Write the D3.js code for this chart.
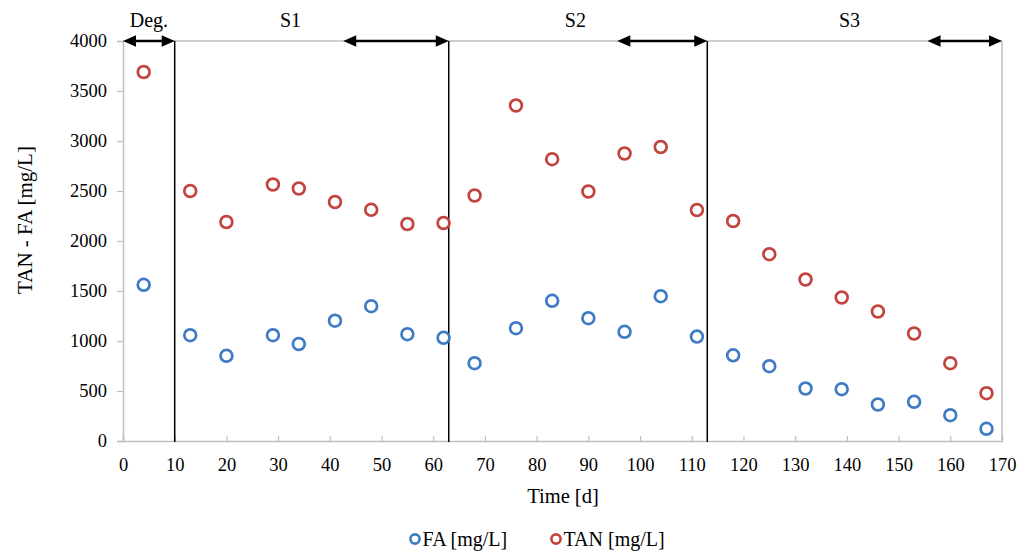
<!DOCTYPE html>
<html><head><meta charset="utf-8">
<script src="https://cdn.jsdelivr.net/npm/d3@7"></script>
<style>body{margin:0;background:#fff;} svg{display:block;}</style>
</head><body>
<svg id="chart" width="1031" height="552"></svg>
<script>
const days = [4,13,20,29,34,41,48,55,62,68,76,83,90,97,104,111,118,125,132,139,146,153,160,167];
const tanValues = [3690,2500,2190,2565,2525,2390,2312,2170,2180,2455,3355,2818,2495,2875,2940,2310,2200,1868,1615,1435,1295,1075,778,478];
const faValues = [1562,1058,852,1058,970,1203,1348,1068,1032,778,1128,1402,1228,1092,1448,1044,857,748,525,518,365,392,258,122];
const xTicks = [0,10,20,30,40,50,60,70,80,90,100,110,120,130,140,150,160,170];
const yTicks = [0,500,1000,1500,2000,2500,3000,3500,4000];
const phaseBounds = [10,63,113];
const phaseArrows = [[0,10],[42.6,63],[95.6,113],[155.6,170]];
const phaseLabels = ["Deg.","S1","S2","S3"];
const phaseLabelPos = [5.0,32.4,87.5,140.5];
const seriesNames = ["FA [mg/L]","TAN [mg/L]"];
const seriesColors = ["#3F7BC4","#C3433F"];

const svg = d3.select("#chart");
const m = {left:123, top:41, right:29, bottom:111};
const W = 1031 - m.left - m.right, H = 552 - m.top - m.bottom;
const g = svg.append("g").attr("transform",`translate(${m.left},${m.top})`);
const x = d3.scaleLinear().domain([0,170]).range([0,W]);
const y = d3.scaleLinear().domain([0,4000]).range([H,0]);
const font = "'Liberation Serif','Times New Roman',serif";
const grey = "#BFBFBF";

// plot area border (top, right)
g.append("line").attr("x1",0).attr("x2",W).attr("y1",0).attr("y2",0).attr("stroke",grey).attr("stroke-width",1.5);
g.append("line").attr("x1",W).attr("x2",W).attr("y1",0).attr("y2",H).attr("stroke",grey).attr("stroke-width",1.5);

// y axis
const ya = g.append("g").call(d3.axisLeft(y).tickValues(yTicks).tickSize(6).tickPadding(10).tickFormat(d3.format("d")));
ya.select(".domain").attr("stroke",grey).attr("stroke-width",1.5);
ya.selectAll(".tick line").attr("stroke",grey).attr("stroke-width",1.2);
ya.selectAll("text").attr("font-family",font).attr("font-size",18.5).attr("fill","#000");

// x axis
const xa = g.append("g").attr("transform",`translate(0,${H})`).call(d3.axisBottom(x).tickValues(xTicks).tickSize(-5).tickPadding(17).tickFormat(d3.format("d")));
xa.select(".domain").attr("stroke",grey).attr("stroke-width",1.5);
xa.selectAll(".tick line").attr("stroke",grey).attr("stroke-width",1.2);
xa.selectAll("text").attr("font-family",font).attr("font-size",18.5).attr("fill","#000");

// phase boundaries
g.selectAll(".bound").data(phaseBounds).enter().append("line")
  .attr("x1",d=>x(d)).attr("x2",d=>x(d)).attr("y1",0).attr("y2",H+1)
  .attr("stroke","#000").attr("stroke-width",1.5);

// double arrows
const ah = 13, aw = 5.8;
phaseArrows.forEach(([a,b])=>{
  const x1 = x(a), x2 = x(b);
  g.append("line").attr("x1",x1+ah-1).attr("x2",x2-ah+1).attr("y1",0).attr("y2",0).attr("stroke","#000").attr("stroke-width",2.5);
  g.append("path").attr("d",`M${x1},0L${x1+ah},${-aw}L${x1+ah},${aw}Z`).attr("fill","#000");
  g.append("path").attr("d",`M${x2},0L${x2-ah},${-aw}L${x2-ah},${aw}Z`).attr("fill","#000");
});

// phase labels
g.selectAll(".plabel").data(phaseLabels).enter().append("text")
  .attr("x",(d,i)=>x(phaseLabelPos[i])).attr("y",-14.5).attr("text-anchor","middle")
  .attr("font-family",font).attr("font-size",20).attr("fill","#000").text(d=>d);

// series
const series = [faValues, tanValues];
series.forEach((vals,si)=>{
  g.selectAll(".pt"+si).data(vals).enter().append("circle")
    .attr("cx",(d,i)=>x(days[i])).attr("cy",d=>y(d)).attr("r",5.9)
    .attr("fill","none").attr("stroke",seriesColors[si]).attr("stroke-width",2.7);
});

// axis titles
svg.append("text").attr("x",563).attr("y",503).attr("text-anchor","middle")
  .attr("font-family",font).attr("font-size",20.5).text("Time [d]");
svg.append("text").attr("transform","translate(32,220) rotate(-90)").attr("text-anchor","middle")
  .attr("font-family",font).attr("font-size",21).text("TAN - FA [mg/L]");

// legend
const legX = [415, 556];
seriesNames.forEach((n,i)=>{
  svg.append("circle").attr("cx",legX[i]).attr("cy",539).attr("r",4.6)
    .attr("fill","none").attr("stroke",seriesColors[i]).attr("stroke-width",2.6);
  svg.append("text").attr("x",legX[i]+7.5).attr("y",546).attr("font-family",font).attr("font-size",20).text(n);
});
</script>
</body></html>
